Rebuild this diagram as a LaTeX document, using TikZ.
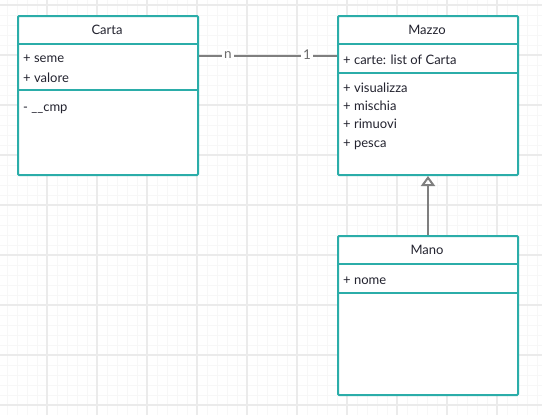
\documentclass[tikz,border=0pt]{standalone}
\usepackage{fontspec}
\setmainfont{Lato}
\usetikzlibrary{arrows.meta}
\definecolor{tealb}{HTML}{2BADA9}
\definecolor{gridmin}{HTML}{F7F7F7}
\definecolor{gridmaj}{HTML}{EBEBEB}
\definecolor{conn}{HTML}{7F7F7F}
\definecolor{txt}{HTML}{23232F}
\tikzset{
  classbox/.style={draw=tealb, line width=2pt, fill=white, rounded corners=1pt, anchor=north west, inner sep=0pt},
  divider/.style={draw=tealb, line width=2pt},
  title/.style={text=txt, font=\fontsize{13}{15}\selectfont, inner sep=0pt},
  member/.style={text=txt, font=\fontsize{13}{15}\selectfont, inner sep=0pt, anchor=base west},
  conn/.style={draw=conn, line width=2pt},
  lbl/.style={text=conn!85!black, font=\fontsize{13.5}{15}\selectfont, fill=white, inner sep=2.5pt},
}
\begin{document}
\begin{tikzpicture}[x=1pt,y=-1pt]
\useasboundingbox (0,0) rectangle (542,415);
\fill[white] (0,0) rectangle (542,415);
% grid
\foreach \x in {7,17,...,537} \draw[gridmin, line width=1pt] (\x,0) -- (\x,415);
\foreach \y in {5,15,...,415} \draw[gridmin, line width=1pt] (0,\y) -- (542,\y);
\foreach \x in {47,97,...,537} \draw[gridmaj, line width=1.2pt] (\x,0) -- (\x,415);
\foreach \y in {5,55,...,405} \draw[gridmaj, line width=1.2pt] (0,\y) -- (542,\y);

% Carta
\node[classbox, minimum width=180pt, minimum height=159pt] (carta) at (17,15) {};
\draw[divider] ([yshift=-29pt]carta.north west) -- ([yshift=-29pt]carta.north east);
\draw[divider] ([yshift=-75pt]carta.north west) -- ([yshift=-75pt]carta.north east);
\node[title] (cartaT) at (107,30) {Carta};
\node[member] (cartaA1) at (23,63) {+ seme};
\node[member] (cartaA2) at (23,82) {+ valore};
\node[member] (cartaM1) at (23,111) {- \_\_cmp};

% Mazzo
\node[classbox, minimum width=180pt, minimum height=159pt] (mazzo) at (337,15) {};
\draw[divider] ([yshift=-29pt]mazzo.north west) -- ([yshift=-29pt]mazzo.north east);
\draw[divider] ([yshift=-58pt]mazzo.north west) -- ([yshift=-58pt]mazzo.north east);
\node[title] (mazzoT) at (427,30) {Mazzo};
\node[member] (mazzoA1) at (343,64) {+ carte: list of Carta};
\node[member] (mazzoM1) at (343,92.5) {+ visualizza};
\node[member] (mazzoM2) at (343,110.5) {+ mischia};
\node[member] (mazzoM3) at (343,128.5) {+ rimuovi};
\node[member] (mazzoM4) at (343,147) {+ pesca};

% Mano
\node[classbox, minimum width=180pt, minimum height=159pt] (mano) at (337,235) {};
\draw[divider] ([yshift=-29pt]mano.north west) -- ([yshift=-29pt]mano.north east);
\draw[divider] ([yshift=-58pt]mano.north west) -- ([yshift=-58pt]mano.north east);
\node[title] (manoT) at (427,250) {Mano};
\node[member] (manoA1) at (343,284) {+ nome};

% association
\draw[conn] ([yshift=-41pt]carta.north east) -- ([yshift=-41pt]mazzo.north west);
\node[lbl] (ln) at (228,55) {n};
\node[lbl] (l1) at (307,55) {1};

% generalization
\draw[conn, -{Triangle[open, width=14pt, length=10pt, line width=2pt]}] (mano.north) -- (mazzo.south);
\end{tikzpicture}
\end{document}
